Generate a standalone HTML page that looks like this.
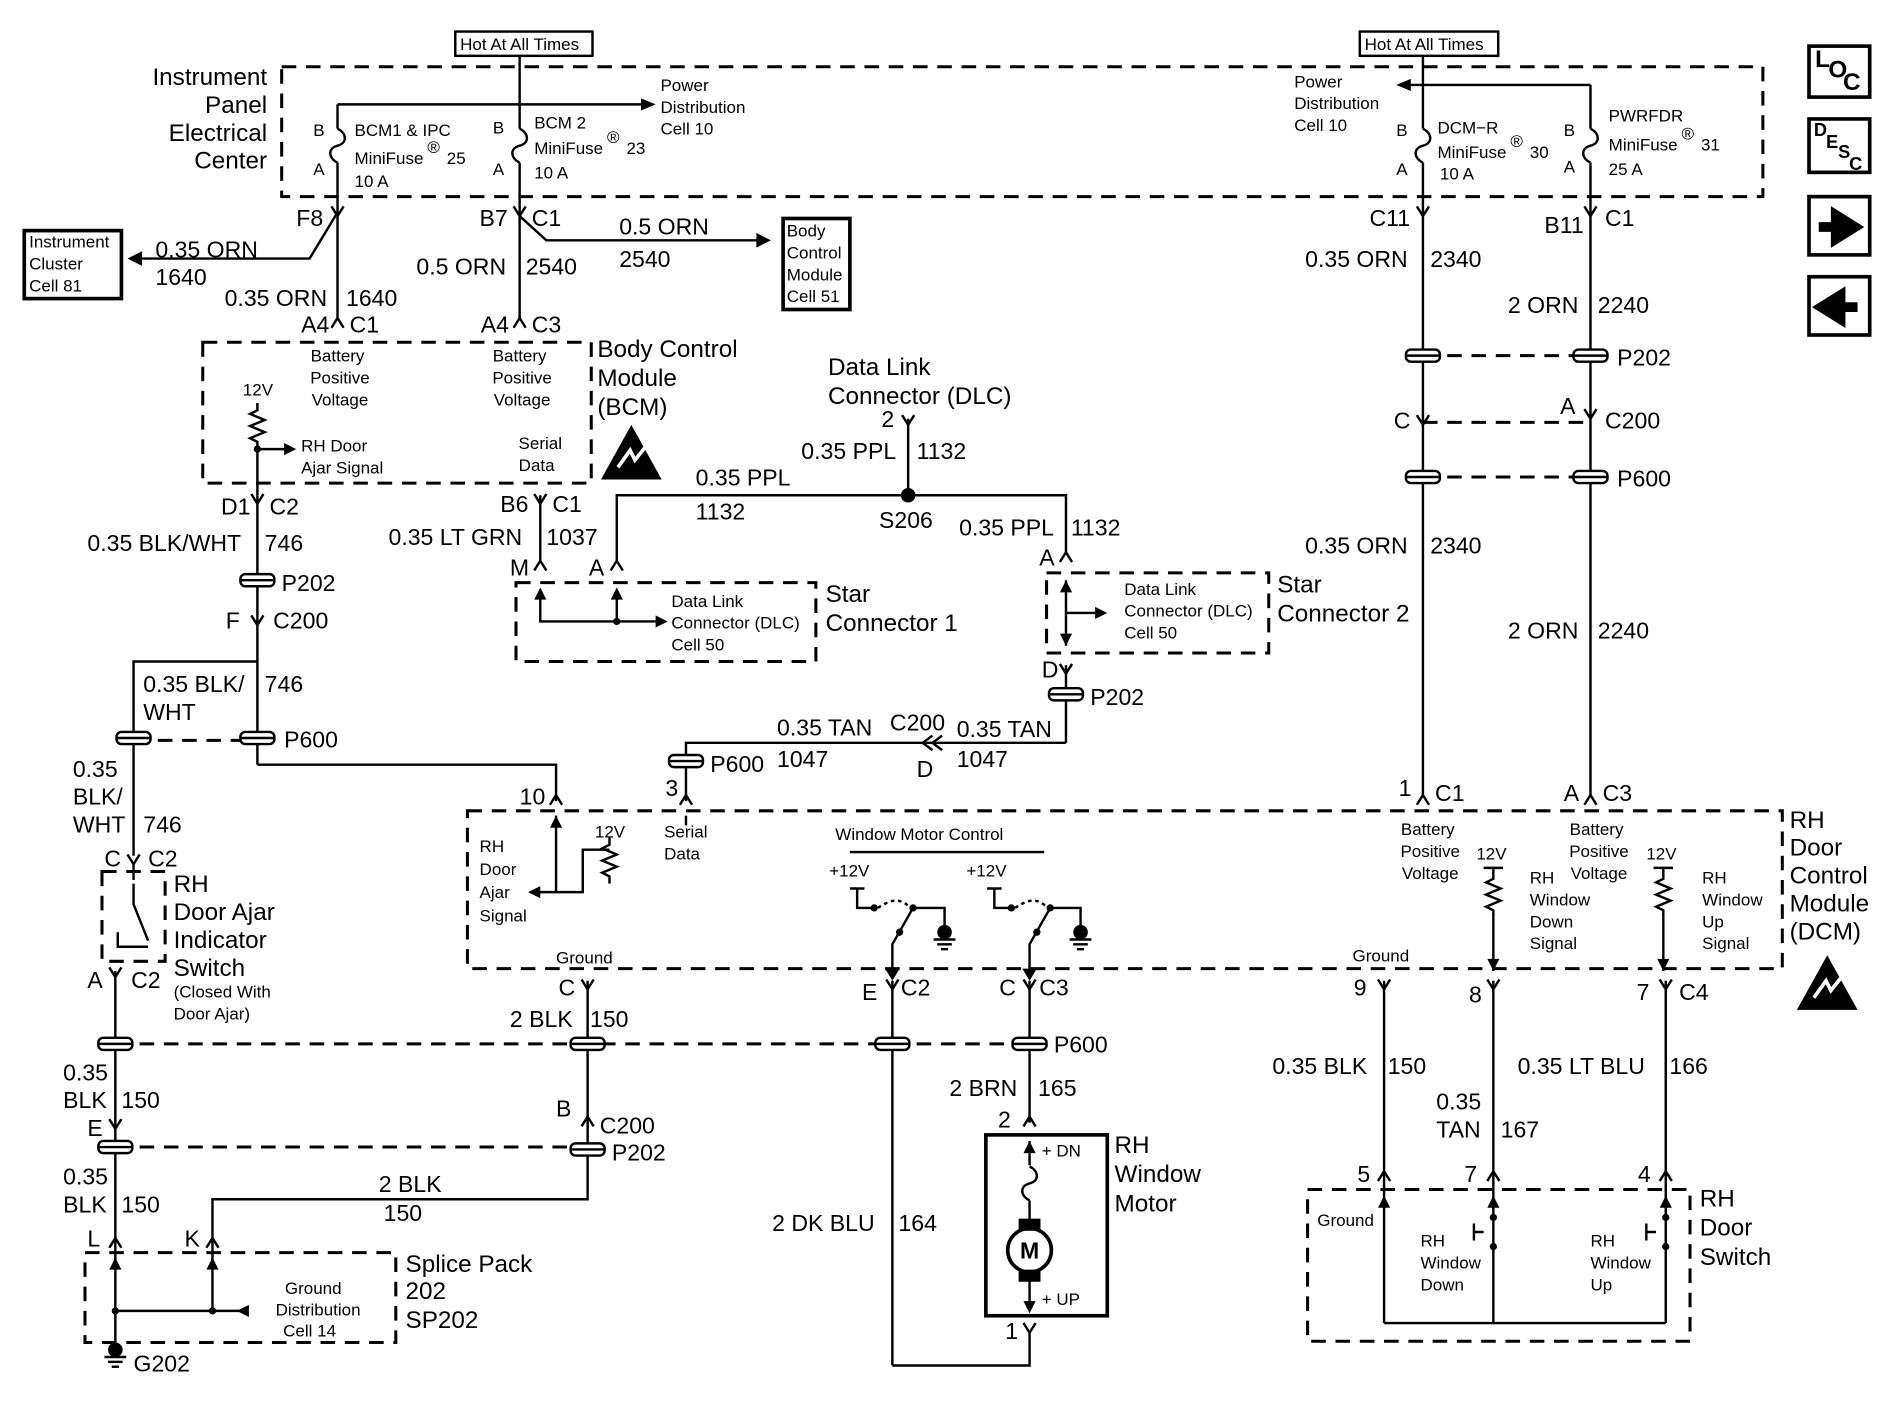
<!DOCTYPE html>
<html><head><meta charset="utf-8"><style>
html,body{margin:0;padding:0;background:#fff;}
svg{display:block}
text{font-family:"Liberation Sans",sans-serif;fill:#000}
.l{font-size:19px}.s{font-size:14px}.m{font-size:20px}
</style></head><body>
<svg width="1894" height="1408" viewBox="0 0 1560 1160" preserveAspectRatio="none" xmlns="http://www.w3.org/2000/svg">
<defs>
<g id="ic"><rect x="-14" y="-5" width="28" height="10" rx="4" fill="#fff" stroke="#000" stroke-width="2"/><line x1="-14" y1="0" x2="14" y2="0" stroke="#000" stroke-width="2"/></g>
<path id="fk" d="M-5,-8 L0,0 L5,-8" fill="none" stroke="#000" stroke-width="2"/>
<path id="up" d="M-5,8 L0,0 L5,8" fill="none" stroke="#000" stroke-width="2"/>
<path id="fuse" d="M0,-14 C8,-10 8,-2 0,0 C-8,2 -8,10 0,14" fill="none" stroke="#000" stroke-width="2"/>
<path id="res" d="M0,0 L0,6 L-6,9 L6,14 L-6,19 L6,24 L-6,29 L0,32 L0,38" fill="none" stroke="#000" stroke-width="2"/>
<g id="esd"><path d="M0,0 L25,-45 L50,0 Z" fill="#000"/><path d="M14,-10 l10,-14 l4,8 l8,-10" stroke="#fff" stroke-width="3" fill="none"/></g>
<g id="gnd"><circle cx="0" cy="0" r="6" fill="#000"/><line x1="-9" y1="6" x2="9" y2="6" stroke="#000" stroke-width="2"/><line x1="-6" y1="10" x2="6" y2="10" stroke="#000" stroke-width="2"/><line x1="-3" y1="14" x2="3" y2="14" stroke="#000" stroke-width="2"/></g>
</defs>
<g stroke="#000" stroke-width="2" fill="none">
<!-- dashed boxes -->
<g stroke-dasharray="12,8" stroke-width="2.5">
<rect x="232" y="55" width="1220" height="107"/>
<rect x="167" y="282" width="320" height="116"/>
<rect x="425" y="480" width="247" height="65"/>
<rect x="862" y="472" width="183" height="66"/>
<rect x="385" y="668" width="1083" height="130"/>
<rect x="84" y="718" width="52" height="74"/>
<rect x="70" y="1032" width="256" height="74"/>
<rect x="1077" y="980" width="315" height="125"/>
<line x1="110" y1="610" x2="212" y2="610"/>
<line x1="95" y1="860" x2="848" y2="860"/>
<line x1="95" y1="945" x2="484" y2="945"/>
<line x1="1172" y1="293" x2="1310" y2="293"/>
<line x1="1172" y1="348" x2="1310" y2="348"/>
<line x1="1172" y1="393" x2="1310" y2="393"/>
</g>
<!-- solid boxes -->
<rect x="375" y="26" width="113" height="20"/>
<rect x="1120" y="26" width="114" height="20"/>
<rect x="20" y="190" width="80" height="56" stroke-width="3"/>
<rect x="645" y="180" width="55" height="75" stroke-width="3"/>
<rect x="812" y="935" width="100" height="149" stroke-width="3"/>
<rect x="1490" y="38" width="50" height="42" stroke-width="3"/>
<rect x="1490" y="98" width="50" height="44" stroke-width="3"/>
<rect x="1490" y="162" width="50" height="48" stroke-width="3"/>
<rect x="1490" y="228" width="50" height="48" stroke-width="3"/>
<!-- top wiring -->
<line x1="428" y1="46" x2="428" y2="106"/>
<line x1="278" y1="86" x2="530" y2="86"/>
<line x1="278" y1="86" x2="278" y2="106"/>
<line x1="278" y1="134" x2="278" y2="262"/>
<line x1="428" y1="134" x2="428" y2="262"/>
<line x1="1172" y1="46" x2="1172" y2="106"/>
<line x1="1160" y1="70" x2="1310" y2="70"/>
<line x1="1310" y1="70" x2="1310" y2="106"/>
<line x1="1172" y1="134" x2="1172" y2="655"/>
<line x1="1310" y1="134" x2="1310" y2="655"/>
<path d="M278,175 L255,213 L112,213"/>
<path d="M428,178 L450,198 L625,198"/>
<!-- BCM internals -->
<line x1="212" y1="370" x2="212" y2="408"/>
<line x1="212" y1="370" x2="235" y2="370"/>
<!-- left side -->
<line x1="212" y1="408" x2="212" y2="630"/>
<path d="M212,630 L458,630 L458,660"/>
<path d="M212,545 L110,545 L110,705"/>
<line x1="110" y1="712" x2="110" y2="725"/>
<line x1="95" y1="800" x2="95" y2="1112"/>
<path d="M175,1020 L175,988 L484,988 L484,945"/>
<line x1="484" y1="808" x2="484" y2="945"/>
<line x1="175" y1="1020" x2="175" y2="1080"/>
<line x1="95" y1="1080" x2="200" y2="1080"/>
<!-- door ajar switch -->
<path d="M110,728 L110,745 L122,775"/>
<path d="M97,768 L97,780 L122,780"/>
<!-- DLC -->
<line x1="748" y1="345" x2="748" y2="408"/>
<path d="M508,462 L508,408 L878,408 L878,455"/>
<line x1="445" y1="408" x2="445" y2="462"/>
<path d="M445,486 L445,512 L540,512"/>
<line x1="508" y1="486" x2="508" y2="512"/>
<line x1="878" y1="478" x2="878" y2="532"/>
<line x1="878" y1="505" x2="902" y2="505"/>
<line x1="878" y1="548" x2="878" y2="612"/>
<path d="M878,612 L565,612 L565,660"/>
<!-- DCM internals -->
<line x1="458" y1="672" x2="458" y2="735"/>
<line x1="458" y1="735" x2="442" y2="735"/>
<path d="M458,735 L480,735 L480,700 L502,700"/>
<line x1="565" y1="672" x2="565" y2="680"/>
<path d="M700,702 L860,702"/>
<path d="M700,732 L712,732 M706,732 L706,748 L720,748"/>
<path d="M723,748 C735,740 742,740 750,748" stroke-dasharray="3,3"/>
<path d="M752,748 L778,748 L778,765"/>
<path d="M735,800 L735,778 L752,748"/>
<path d="M813,732 L825,732 M819,732 L819,748 L833,748"/>
<path d="M836,748 C848,740 855,740 863,748" stroke-dasharray="3,3"/>
<path d="M865,748 L890,748 L890,765"/>
<path d="M848,800 L848,778 L865,748"/>
<line x1="1230" y1="715" x2="1230" y2="718"/>
<line x1="1370" y1="715" x2="1370" y2="718"/>
<line x1="1222" y1="715" x2="1238" y2="715"/>
<line x1="1362" y1="715" x2="1378" y2="715"/>
<line x1="1230" y1="756" x2="1230" y2="800"/>
<line x1="1370" y1="756" x2="1370" y2="800"/>
<!-- bottom right -->
<line x1="1140" y1="808" x2="1140" y2="1090"/>
<line x1="1230" y1="808" x2="1230" y2="1090"/>
<line x1="1372" y1="808" x2="1372" y2="1090"/>
<line x1="1140" y1="1090" x2="1372" y2="1090"/>
<path d="M1222,1015 L1214,1015 M1214,1008 L1214,1022"/>
<path d="M1364,1015 L1356,1015 M1356,1008 L1356,1022"/>
<!-- motor -->
<line x1="735" y1="808" x2="735" y2="1125"/>
<path d="M735,1125 L848,1125 L848,1098"/>
<line x1="848" y1="808" x2="848" y2="925"/>
<line x1="848" y1="940" x2="848" y2="960"/>
<use href="#fuse" x="848" y="975"/>
<line x1="848" y1="989" x2="848" y2="1012"/>
<circle cx="848" cy="1030" r="18" stroke-width="3"/>
<line x1="848" y1="1048" x2="848" y2="1080"/>
<rect x="840" y="1005" width="16" height="8" fill="#000"/>
<rect x="840" y="1047" width="16" height="8" fill="#000"/>
</g>
<!-- fuses & resistors -->
<use href="#fuse" x="278" y="120"/><use href="#fuse" x="428" y="120"/>
<use href="#fuse" x="1172" y="120"/><use href="#fuse" x="1310" y="120"/>
<use href="#res" x="212" y="332"/><use href="#res" x="502" y="690"/>
<use href="#res" x="1230" y="718"/><use href="#res" x="1370" y="718"/>
<!-- arrowheads -->
<g fill="#000">
<path d="M540,86 l-12,-5 v10z"/><path d="M1150,70 l12,-5 v10z"/>
<path d="M105,213 l12,-6 v12z"/><path d="M635,198 l-12,-6 v12z"/>
<path d="M244,370 l-10,-5 v10z"/><path d="M550,512 l-10,-5 v10z"/><path d="M912,505 l-10,-5 v10z"/>
<path d="M435,735 l10,-5 v10z"/><path d="M195,1080 l10,-5 v10z"/>
<path d="M735,808 l-6,-10 h12z"/><path d="M848,808 l-6,-10 h12z"/>
<path d="M1230,800 l-5,-10 h10z"/><path d="M1370,800 l-5,-10 h10z"/>
<path d="M458,672 l-5,10 h10z"/><path d="M445,484 l-5,10 h10z"/><path d="M508,484 l-5,10 h10z"/>
<path d="M878,478 l-5,10 h10z"/><path d="M878,532 l-5,-10 h10z"/>
<path d="M848,940 l-5,10 h10z"/><path d="M848,1082 l-5,-10 h10z"/>
<path d="M1140,985 l-5,10 h10z"/><path d="M1230,985 l-5,10 h10z"/><path d="M1372,985 l-5,10 h10z"/>
<path d="M95,1036 l-5,10 h10z"/><path d="M175,1036 l-5,10 h10z"/>
<path d="M1220,50 l12,10 h-24z" fill="none"/>
<path d="M1498,187 h14 v-10 l16,10 l-16,10 v-10z" stroke="#000" stroke-width="8"/>
<path d="M1530,253 h-14 v-10 l-16,10 l16,10 v-10z" stroke="#000" stroke-width="8"/>
<circle cx="748" cy="408" r="6"/><circle cx="212" cy="370" r="3"/>
<circle cx="720" cy="748" r="3"/><circle cx="752" cy="748" r="3"/><circle cx="741" cy="768" r="3"/>
<circle cx="833" cy="748" r="3"/><circle cx="865" cy="748" r="3"/><circle cx="854" cy="768" r="3"/>
<circle cx="1230" cy="1003" r="3"/><circle cx="1230" cy="1027" r="3"/><circle cx="1372" cy="1003" r="3"/><circle cx="1372" cy="1027" r="3"/>
<circle cx="95" cy="1080" r="3"/><circle cx="175" cy="1080" r="3"/><circle cx="508" cy="512" r="3"/>
</g>
<use href="#gnd" x="778" y="768"/><use href="#gnd" x="890" y="768"/><use href="#gnd" x="95" y="1112"/>
<use href="#esd" x="495" y="395"/><use href="#esd" x="1480" y="832"/>
<!-- connectors -->
<use href="#fk" x="278" y="178"/><use href="#fk" x="428" y="178"/><use href="#fk" x="1172" y="178"/><use href="#fk" x="1310" y="178"/>
<use href="#up" x="278" y="262"/><use href="#up" x="428" y="262"/>
<use href="#fk" x="212" y="415"/><use href="#fk" x="445" y="415"/><use href="#fk" x="748" y="350"/>
<use href="#up" x="445" y="462"/><use href="#up" x="508" y="462"/><use href="#up" x="878" y="455"/>
<use href="#fk" x="878" y="555"/><use href="#fk" x="212" y="515"/><use href="#fk" x="1172" y="350"/><use href="#fk" x="1310" y="345"/>
<use href="#up" x="458" y="655"/><use href="#up" x="565" y="655"/><use href="#up" x="1172" y="655"/><use href="#up" x="1310" y="655"/>
<use href="#fk" x="110" y="712"/><use href="#fk" x="95" y="805"/>
<use href="#fk" x="735" y="815"/><use href="#fk" x="848" y="815"/><use href="#fk" x="484" y="815"/>
<use href="#fk" x="1140" y="815"/><use href="#fk" x="1230" y="815"/><use href="#fk" x="1372" y="815"/>
<use href="#up" x="1140" y="965"/><use href="#up" x="1230" y="965"/><use href="#up" x="1372" y="965"/>
<use href="#up" x="848" y="920"/><use href="#fk" x="848" y="1098"/><use href="#up" x="484" y="920"/><use href="#fk" x="95" y="930"/>
<use href="#up" x="95" y="1020"/><use href="#up" x="175" y="1020"/>
<path d="M768,606 l-8,6 l8,6 M776,606 l-8,6 l8,6" stroke="#000" stroke-width="2" fill="none"/>
<use href="#ic" x="212" y="478"/><use href="#ic" x="212" y="608"/><use href="#ic" x="110" y="608"/>
<use href="#ic" x="878" y="572"/><use href="#ic" x="565" y="627"/>
<use href="#ic" x="95" y="860"/><use href="#ic" x="95" y="945"/><use href="#ic" x="484" y="860"/><use href="#ic" x="484" y="947"/>
<use href="#ic" x="735" y="860"/><use href="#ic" x="848" y="860"/>
<use href="#ic" x="1172" y="293"/><use href="#ic" x="1310" y="293"/><use href="#ic" x="1172" y="393"/><use href="#ic" x="1310" y="393"/>
<!-- text -->
<g class="s">
<text x="379" y="41">Hot At All Times</text><text x="1124" y="41">Hot At All Times</text>
<text x="544" y="75">Power</text><text x="544" y="93">Distribution</text><text x="544" y="111">Cell 10</text>
<text x="1066" y="72">Power</text><text x="1066" y="90">Distribution</text><text x="1066" y="108">Cell 10</text>
<text x="258" y="112">B</text><text x="258" y="144">A</text><text x="406" y="110">B</text><text x="406" y="144">A</text>
<text x="1150" y="112">B</text><text x="1150" y="144">A</text><text x="1288" y="112">B</text><text x="1288" y="142">A</text>
<text x="292" y="112">BCM1 &amp; IPC</text><text x="292" y="135">MiniFuse</text><text x="352" y="126">®</text><text x="368" y="135">25</text><text x="292" y="154">10 A</text>
<text x="440" y="106">BCM 2</text><text x="440" y="127">MiniFuse</text><text x="500" y="118">®</text><text x="516" y="127">23</text><text x="440" y="147">10 A</text>
<text x="1184" y="110">DCM−R</text><text x="1184" y="130">MiniFuse</text><text x="1244" y="121">®</text><text x="1260" y="130">30</text><text x="1186" y="148">10 A</text>
<text x="1325" y="100">PWRFDR</text><text x="1325" y="124">MiniFuse</text><text x="1385" y="115">®</text><text x="1401" y="124">31</text><text x="1325" y="144">25 A</text>
<text x="24" y="204">Instrument</text><text x="24" y="222">Cluster</text><text x="24" y="240">Cell 81</text>
<text x="648" y="195">Body</text><text x="648" y="213">Control</text><text x="648" y="231">Module</text><text x="648" y="249">Cell 51</text>
<g text-anchor="middle"><text x="278" y="298">Battery</text><text x="280" y="316">Positive</text><text x="280" y="334">Voltage</text>
<text x="428" y="298">Battery</text><text x="430" y="316">Positive</text><text x="430" y="334">Voltage</text>
<text x="445" y="370">Serial</text><text x="442" y="388">Data</text>
<text x="1176" y="688">Battery</text><text x="1178" y="706">Positive</text><text x="1178" y="724">Voltage</text>
<text x="1315" y="688">Battery</text><text x="1317" y="724">Voltage</text><text x="1317" y="706">Positive</text>
<text x="258" y="1066">Ground</text><text x="262" y="1084">Distribution</text><text x="255" y="1101">Cell 14</text></g>
<text x="200" y="326">12V</text><text x="248" y="372">RH Door</text><text x="248" y="390">Ajar Signal</text>
<text x="553" y="500">Data Link</text><text x="553" y="518">Connector (DLC)</text><text x="553" y="536">Cell 50</text>
<text x="926" y="490">Data Link</text><text x="926" y="508">Connector (DLC)</text><text x="926" y="526">Cell 50</text>
<text x="490" y="690">12V</text><text x="395" y="702">RH</text><text x="395" y="721">Door</text><text x="395" y="740">Ajar</text><text x="395" y="759">Signal</text>
<text x="547" y="690">Serial</text><text x="547" y="708">Data</text>
<text x="688" y="692">Window Motor Control</text><text x="683" y="722">+12V</text><text x="796" y="722">+12V</text>
<text x="458" y="794">Ground</text><text x="1114" y="792">Ground</text>
<text x="1216" y="708">12V</text><text x="1356" y="708">12V</text>
<text x="1260" y="728">RH</text><text x="1260" y="746">Window</text><text x="1260" y="764">Down</text><text x="1260" y="782">Signal</text>
<text x="1402" y="728">RH</text><text x="1402" y="746">Window</text><text x="1402" y="764">Up</text><text x="1402" y="782">Signal</text>
<text x="143" y="822">(Closed With</text><text x="143" y="840">Door Ajar)</text>
<text x="1085" y="1010">Ground</text>
<text x="1170" y="1027">RH</text><text x="1170" y="1045">Window</text><text x="1170" y="1063">Down</text>
<text x="1310" y="1027">RH</text><text x="1310" y="1045">Window</text><text x="1310" y="1063">Up</text>
<text x="858" y="953">+ DN</text><text x="858" y="1075">+ UP</text>
</g>
<text x="848" y="1037" text-anchor="middle" style="font-size:19px;font-weight:bold">M</text>
<g style="font-size:20px;font-weight:bold"><text x="1495" y="55">L</text><text x="1506" y="64">O</text><text x="1518" y="74">C</text>
<text x="1494" y="112" style="font-size:15px">D</text><text x="1504" y="122" style="font-size:15px">E</text><text x="1514" y="130" style="font-size:15px">S</text><text x="1523" y="140" style="font-size:15px">C</text></g>
<g class="m" text-anchor="end"><text x="220" y="70">Instrument</text><text x="220" y="93">Panel</text><text x="220" y="116">Electrical</text><text x="220" y="139">Center</text></g>
<g class="m">
<text x="492" y="294">Body Control</text><text x="492" y="318">Module</text><text x="492" y="342">(BCM)</text>
<text x="682" y="309">Data Link</text><text x="682" y="333">Connector (DLC)</text>
<text x="680" y="496">Star</text><text x="680" y="520">Connector 1</text><text x="1052" y="488">Star</text><text x="1052" y="512">Connector 2</text>
<text x="1474" y="682">RH</text><text x="1474" y="705">Door</text><text x="1474" y="728">Control</text><text x="1474" y="751">Module</text><text x="1474" y="774">(DCM)</text>
<text x="143" y="735">RH</text><text x="143" y="758">Door Ajar</text><text x="143" y="781">Indicator</text><text x="143" y="804">Switch</text>
<text x="334" y="1048">Splice Pack</text><text x="334" y="1070">202</text><text x="334" y="1094">SP202</text>
<text x="918" y="950">RH</text><text x="918" y="974">Window</text><text x="918" y="998">Motor</text>
<text x="1400" y="994">RH</text><text x="1400" y="1018">Door</text><text x="1400" y="1042">Switch</text>
</g>
<g class="l">
<text x="244" y="186">F8</text><text x="395" y="186">B7</text><text x="438" y="186">C1</text><text x="1128" y="186">C11</text><text x="1272" y="192">B11</text><text x="1322" y="186">C1</text>
<text x="128" y="212">0.35 ORN</text><text x="128" y="235">1640</text><text x="185" y="252">0.35 ORN</text><text x="285" y="252">1640</text>
<text x="343" y="226">0.5 ORN</text><text x="433" y="226">2540</text><text x="510" y="193">0.5 ORN</text><text x="510" y="220">2540</text>
<text x="248" y="274">A4</text><text x="288" y="274">C1</text><text x="396" y="274">A4</text><text x="438" y="274">C3</text>
<text x="182" y="424">D1</text><text x="222" y="424">C2</text><text x="412" y="422">B6</text><text x="455" y="422">C1</text>
<text x="726" y="352">2</text><text x="660" y="378">0.35 PPL</text><text x="755" y="378">1132</text>
<text x="573" y="400">0.35 PPL</text><text x="573" y="428">1132</text><text x="724" y="435">S206</text>
<text x="790" y="441">0.35 PPL</text><text x="882" y="441">1132</text>
<text x="320" y="449">0.35 LT GRN</text><text x="450" y="449">1037</text><text x="420" y="474">M</text><text x="485" y="474">A</text><text x="856" y="466">A</text>
<text x="72" y="454">0.35 BLK/WHT</text><text x="218" y="454">746</text><text x="232" y="487">P202</text>
<text x="186" y="518">F</text><text x="225" y="518">C200</text>
<text x="118" y="570">0.35 BLK/</text><text x="118" y="593">WHT</text><text x="218" y="570">746</text><text x="234" y="616">P600</text>
<text x="60" y="640">0.35</text><text x="60" y="663">BLK/</text><text x="60" y="686">WHT</text><text x="118" y="686">746</text>
<text x="86" y="714">C</text><text x="122" y="714">C2</text><text x="72" y="814">A</text><text x="108" y="814">C2</text>
<text x="858" y="558">D</text><text x="898" y="581">P202</text>
<text x="640" y="606">0.35 TAN</text><text x="640" y="632">1047</text><text x="733" y="602">C200</text><text x="788" y="607">0.35 TAN</text><text x="788" y="632">1047</text><text x="755" y="640">D</text>
<text x="585" y="636">P600</text><text x="548" y="656">3</text><text x="428" y="663">10</text>
<text x="1075" y="220">0.35 ORN</text><text x="1178" y="220">2340</text><text x="1242" y="258">2 ORN</text><text x="1316" y="258">2240</text>
<text x="1332" y="301">P202</text><text x="1148" y="353">C</text><text x="1285" y="341">A</text><text x="1322" y="353">C200</text><text x="1332" y="401">P600</text>
<text x="1075" y="456">0.35 ORN</text><text x="1178" y="456">2340</text><text x="1242" y="526">2 ORN</text><text x="1316" y="526">2240</text>
<text x="1152" y="656">1</text><text x="1182" y="660">C1</text><text x="1288" y="660">A</text><text x="1320" y="660">C3</text>
<text x="460" y="820">C</text><text x="420" y="846">2 BLK</text><text x="486" y="846">150</text>
<text x="710" y="824">E</text><text x="742" y="820">C2</text><text x="823" y="820">C</text><text x="856" y="820">C3</text>
<text x="868" y="867">P600</text><text x="782" y="903">2 BRN</text><text x="855" y="903">165</text><text x="822" y="929">2</text><text x="828" y="1103">1</text>
<text x="636" y="1014">2 DK BLU</text><text x="740" y="1014">164</text>
<text x="52" y="890">0.35</text><text x="52" y="913">BLK</text><text x="100" y="913">150</text><text x="72" y="936">E</text>
<text x="458" y="920">B</text><text x="494" y="934">C200</text><text x="504" y="956">P202</text>
<text x="52" y="976">0.35</text><text x="52" y="999">BLK</text><text x="100" y="999">150</text>
<text x="312" y="982">2 BLK</text><text x="316" y="1006">150</text><text x="72" y="1027">L</text><text x="152" y="1027">K</text><text x="110" y="1130">G202</text>
<text x="1115" y="820">9</text><text x="1210" y="826">8</text><text x="1348" y="824">7</text><text x="1383" y="824">C4</text>
<text x="1048" y="885">0.35 BLK</text><text x="1143" y="885">150</text><text x="1250" y="885">0.35 LT BLU</text><text x="1375" y="885">166</text>
<text x="1183" y="914">0.35</text><text x="1183" y="937">TAN</text><text x="1236" y="937">167</text>
<text x="1118" y="974">5</text><text x="1206" y="974">7</text><text x="1349" y="974">4</text>
</g>
</svg>
</body></html>
